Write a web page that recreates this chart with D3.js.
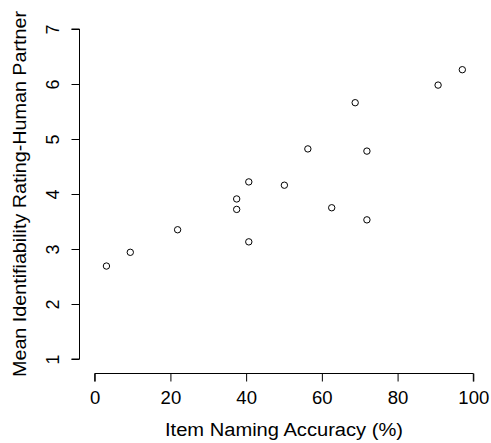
<!DOCTYPE html>
<html><head><meta charset="utf-8">
<script src="https://cdn.jsdelivr.net/npm/d3@7"></script>
<style>body{margin:0;background:#fff}text{font-family:"Liberation Sans",Arial,sans-serif}</style>
</head><body><svg id="c" width="491" height="443"></svg>
<script>
const accuracy = [3.1, 9.4, 21.9, 37.5, 37.5, 40.7, 40.7, 50.1, 56.3, 62.6, 68.8, 71.9, 71.9, 90.7, 97.1];
const rating   = [2.69, 2.94, 3.35, 3.91, 3.72, 4.22, 3.13, 4.16, 4.82, 3.75, 5.66, 4.78, 3.53, 5.98, 6.26];
const xTicks = [0, 20, 40, 60, 80, 100];
const yTicks = [1, 2, 3, 4, 5, 6, 7];
const xTitle = "Item Naming Accuracy (%)";
const yTitle = "Mean Identifiability Rating-Human Partner";

const svg = d3.select("#c");
const x = d3.scaleLinear().domain([0, 100]).range([94.7, 473.3]);
const y = d3.scaleLinear().domain([1, 7]).range([359, 29]);
const fs = 18;

const xa = svg.append("g").attr("transform", "translate(0,373.5)")
  .call(d3.axisBottom(x).tickValues(xTicks).tickSize(8).tickPadding(10).tickFormat(d3.format("d")));
xa.selectAll("path,line").attr("stroke", "#000").attr("stroke-width", 1);
xa.selectAll("text").attr("font-size", fs).attr("fill", "#000").attr("font-family", "Liberation Sans, Arial, sans-serif")
  .attr("textLength", (d) => String(d).length * 10.3).attr("lengthAdjust", "spacingAndGlyphs");

const ya = svg.append("g").attr("transform", "translate(79.5,0)")
  .call(d3.axisLeft(y).tickValues(yTicks).tickSize(8).tickFormat(d3.format("d")));
ya.selectAll("path,line").attr("stroke", "#000").attr("stroke-width", 1);
ya.selectAll("text").attr("font-size", fs).attr("fill", "#000").attr("font-family", "Liberation Sans, Arial, sans-serif")
  .attr("text-anchor", "middle").attr("dy", null).attr("x", null)
  .attr("transform", "translate(-20.5,0) rotate(-90)");
xa.select(".domain").attr("d", `M${x(0)},8V0H${x(100)}V8`);
ya.select(".domain").attr("d", `M-8,${y(7)}H0V${y(1)}H-8`);

svg.append("text").attr("x", (x(0) + x(100)) / 2).attr("y", 436).attr("text-anchor", "middle")
  .attr("font-size", fs).attr("textLength", 238).attr("lengthAdjust", "spacingAndGlyphs").text(xTitle);
svg.append("text").attr("transform", `translate(25.5,${(y(1) + y(7)) / 2}) rotate(-90)`)
  .attr("text-anchor", "middle").attr("font-size", fs)
  .attr("textLength", 366).attr("lengthAdjust", "spacingAndGlyphs").text(yTitle);

svg.append("g").selectAll("circle").data(accuracy).join("circle")
  .attr("cx", (d) => x(d)).attr("cy", (d, i) => y(rating[i])).attr("r", 3.2)
  .attr("fill", "none").attr("stroke", "#000").attr("stroke-width", 1);
</script></body></html>
